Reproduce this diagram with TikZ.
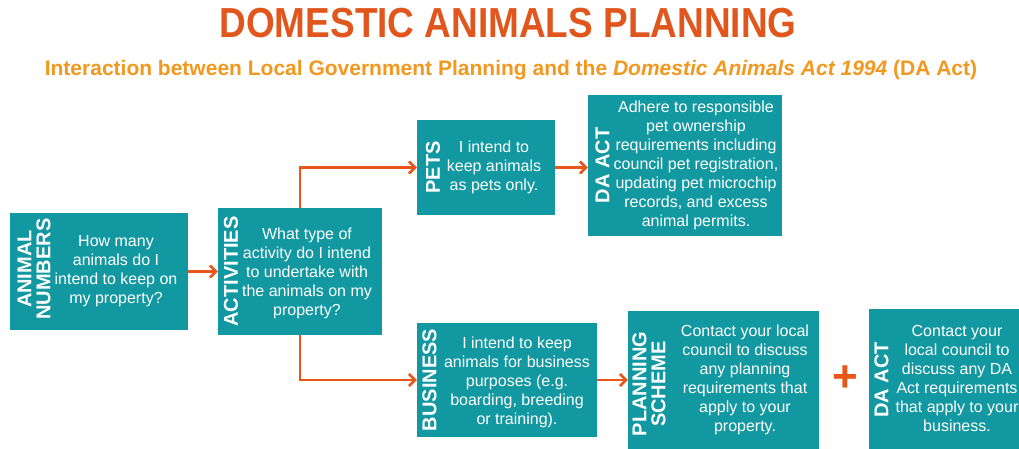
\documentclass[tikz,border=0pt]{standalone}
\usepackage{fontspec}
\setmainfont{Liberation Sans}
\newfontfamily\titlefont[FakeStretch=0.88]{Liberation Sans}
\usepackage{tikz}
\usetikzlibrary{arrows.meta,positioning,calc}
\definecolor{boxteal}{RGB}{18,152,161}
\definecolor{arroworange}{RGB}{232,86,26}
\definecolor{titleorange}{RGB}{224,86,28}
\definecolor{subtitleamber}{RGB}{242,152,30}

\begin{document}
\begin{tikzpicture}[x=1pt,y=-1pt,
  box/.style={fill=boxteal,inner sep=0pt},
  sidelabel/.style={text=white,rotate=90,align=center,inner sep=0pt,
    font=\fontsize{20}{19}\selectfont\bfseries},
  boxtext/.style={text=white,align=center,inner sep=0pt,
    font=\fontsize{16}{19}\selectfont},
  flow/.style={draw=arroworange,line width=2.6pt,
    -{Straight Barb[length=6pt,width=12pt]}}]
  \useasboundingbox (0,0) rectangle (1019,449);
  \clip (0,0) rectangle (1019,449);

  % heading
  \node[text=titleorange,font=\titlefont\bfseries\fontsize{42}{42}\selectfont] (title) at (508,23) {DOMESTIC ANIMALS PLANNING};
  \node[text=subtitleamber,font=\bfseries\fontsize{21}{22}\selectfont] (subtitle) at (511,70)
    {Interaction between Local Government Planning and the \textit{Domestic Animals Act 1994} (DA Act)};

  % boxes
  \node[box,minimum width=178pt,minimum height=117pt] (anum) at (99,271.5) {};
  \node[sidelabel] (anumlab) at (34,269) {ANIMAL\\NUMBERS};
  \node[boxtext] (anumtxt) at (116,271) {How many\\animals do I\\intend to keep on\\my property?};

  \node[box,minimum width=164pt,minimum height=127pt] (activ) at (300,271.5) {};
  \node[sidelabel] (activlab) at (231,271.5) {ACTIVITIES};
  \node[boxtext] (activtxt) at (307,273) {What type of\\activity do I intend\\to undertake with\\the animals on my\\property?};

  \node[box,minimum width=138pt,minimum height=95pt] (pets) at (486,167.5) {};
  \node[sidelabel] (petslab) at (433,167.5) {PETS};
  \node[boxtext] (petstxt) at (494,167) {I intend to\\keep animals\\as pets only.};

  \node[box,minimum width=194pt,minimum height=141pt] (dapets) at (685,165.5) {};
  \node[sidelabel] (dapetslab) at (602.5,165.5) {DA ACT};
  \node[boxtext] (dapetstxt) at (696,165) {Adhere to responsible\\pet ownership\\requirements including\\council pet registration,\\updating pet microchip\\records, and excess\\animal permits.};

  \node[box,minimum width=180pt,minimum height=114pt] (busn) at (507,380) {};
  \node[sidelabel] (busnlab) at (429.5,380) {BUSINESS};
  \node[boxtext] (busntxt) at (517,382) {I intend to keep\\animals for business\\purposes (e.g.\\boarding, breeding\\or training).};

  \node[box,minimum width=191pt,minimum height=159pt] (plan) at (723.5,390.5) {};
  \node[sidelabel] (planlab) at (649,384) {PLANNING\\SCHEME};
  \node[boxtext] (plantxt) at (745,379.5) {Contact your local\\council to discuss\\any planning\\requirements that\\apply to your\\property.};

  \node[box,minimum width=171pt,minimum height=161pt] (dabusn) at (954.5,389.5) {};
  \node[sidelabel] (dabusnlab) at (881.5,380) {DA ACT};
  \node[boxtext] (dabusntxt) at (957,378.5) {Contact your\\local council to\\discuss any DA\\Act requirements\\that apply to your\\business.};

  \node[text=arroworange,font=\fontsize{44}{44}\selectfont\bfseries] (plus) at (845,379) {+};

  % connectors
  \draw[flow] (anum.east) -- (activ.west);
  \draw[flow] (activ.north) |- (pets.west);
  \draw[flow] (activ.south) |- (busn.west);
  \draw[flow] (pets.east) -- (pets.east -| dapets.west);
  \draw[flow] (busn.east) -- (busn.east -| plan.west);
\end{tikzpicture}
\end{document}
